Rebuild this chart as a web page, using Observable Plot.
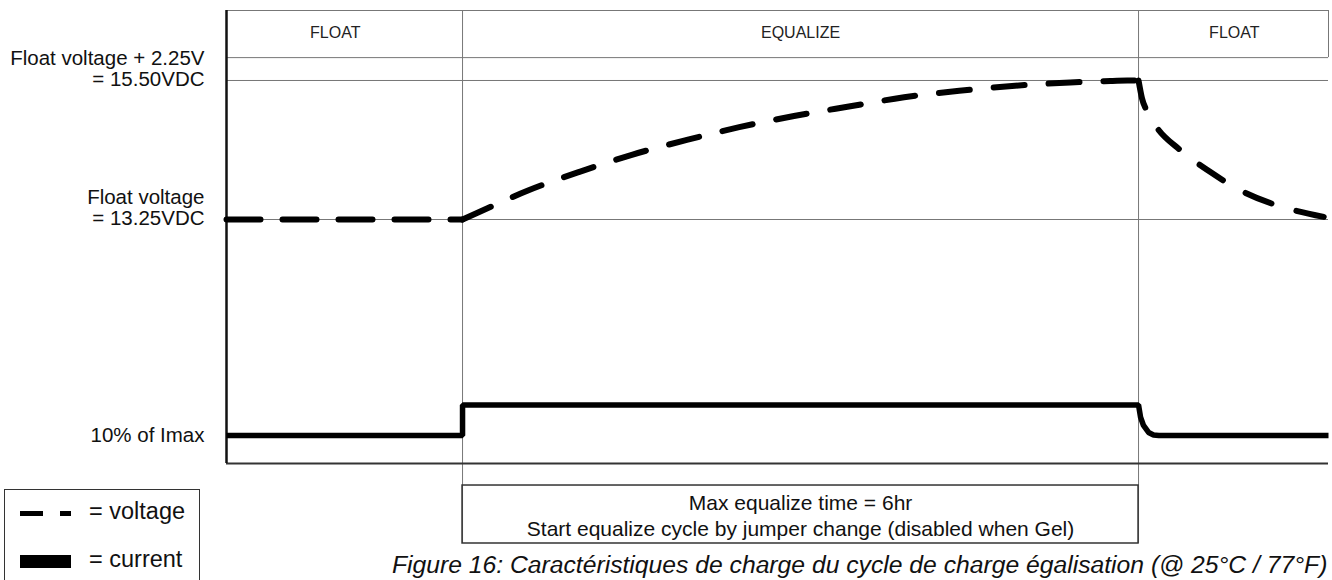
<!DOCTYPE html>
<html>
<head>
<meta charset="utf-8">
<script src="https://cdn.jsdelivr.net/npm/d3@7"></script>
<script src="https://cdn.jsdelivr.net/npm/@observablehq/plot@0.6"></script>
<style>
  html, body { margin: 0; padding: 0; background: #fff; }
  #wrap { position: relative; width: 1332px; height: 580px; overflow: hidden;
          font-family: "Liberation Sans", Arial, Helvetica, sans-serif; color: #111; }
  #wrap svg { position: absolute; left: 0; top: 0; }
  .abs { position: absolute; white-space: nowrap; }
  #legendBox { left: 4px; top: 489px; width: 196px; height: 110px; border: 1.5px solid #333; box-sizing: border-box; }
  .key { background: #000; }
  .ltext { font-size: 23.5px; line-height: 23.5px; }
  #caption { left: 392px; top: 553px; font-size: 24.7px; line-height: 24.7px; font-style: italic; }
</style>
</head>
<body>
<div id="wrap"></div>
<script>
// ---- data ----
const timeDomain = [-2.095, 7.686];           // hours, equalize starts at 0
const phaseBounds = [0, 6];                    // phase changes (hours)
const phaseNames = ["FLOAT", "EQUALIZE", "FLOAT"];
const phaseLabelHours = [-1.13, 3, 6.85];
const phaseLabelLevel = 95.0;
const headerLevels = [100, 89.6];              // header band lines
const levelValues = [84.55, 53.86];            // 15.50 V, 13.25 V lines
const levelLabels = ["Float voltage + 2.25V\n= 15.50VDC", "Float voltage\n= 13.25VDC"];
const currentLabel = ["10% of Imax"];
const currentLabelLevel = 6.2;

// voltage curve (schematic level), split by phase
const voltSection = ["float", "float",
  "equalize", "equalize", "equalize", "equalize", "equalize", "equalize", "equalize", "equalize",
  "equalize", "equalize", "equalize", "equalize", "equalize", "equalize", "equalize", "equalize",
  "after", "after", "after", "after", "after", "after", "after", "after", "after", "after"];
const voltHours  = [-2.095, 0,
  0, 0.138, 0.581, 1.038, 1.503, 1.982, 2.456, 2.942, 3.429, 3.919, 4.409, 4.904, 5.394, 5.751, 5.9, 6.0,
  6.0, 6.031, 6.071, 6.160, 6.367, 6.628, 6.906, 7.187, 7.365, 7.686];
const voltLevels = [53.86, 53.86,
  53.86, 55.41, 60.26, 64.39, 68.15, 71.37, 74.24, 76.71, 78.81, 80.84, 82.27, 83.38, 84.11, 84.44, 84.53, 84.55,
  84.55, 80.57, 77.92, 74.24, 69.25, 64.50, 60.26, 57.33, 56.00, 54.23];
const sectionDash = {float: "34,22", equalize: "31,24", after: "28,26"};

// current curve (schematic level)
const currHours  = [-2.095, 0, 0, 6.0, 6.018, 6.044, 6.089, 6.133, 6.18, 7.686];
const currLevels = [6.2, 6.2, 12.9, 12.9, 10.2, 8.4, 6.85, 6.3, 6.2, 6.2];

// annotation box under the chart
const noteLines = ["Max equalize time = 6hr", "Start equalize cycle by jumper change (disabled when Gel)"];
const noteLevels = [-8.83, -14.57];
const noteBox = [-4.86, -17.66];

const legendLabels = ["= voltage", "= current"];
const captionText = "Figure 16: Caractéristiques de charge du cycle de charge égalisation (@ 25°C / 77°F)";

// ---- chart ----
const gridLevels = [...headerLevels, ...levelValues];
const voltTable = voltHours.map((h, i) => ({h, v: voltLevels[i], s: voltSection[i]}));
const voltMarks = Object.keys(sectionDash).map(s =>
  Plot.line(voltTable.filter(d => d.s === s), {x: "h", y: "v", stroke: "#000", strokeWidth: 6,
    strokeDasharray: sectionDash[s], strokeLinecap: "round", strokeLinejoin: "round", curve: "monotone-x"}));

const chart = Plot.plot({
  width: 1332,
  height: 580,
  marginLeft: 226,
  marginRight: 4,
  marginTop: 10,
  marginBottom: 117,
  x: {domain: timeDomain, axis: null},
  y: {domain: [0, 100], axis: null},
  style: {fontFamily: '"Liberation Sans", Arial, Helvetica, sans-serif', color: "#111", background: "transparent", overflow: "visible"},
  marks: [
    Plot.ruleY(gridLevels, {y: d => d, x1: timeDomain[0], x2: timeDomain[1], stroke: "#777", strokeWidth: 1}),
    Plot.ruleX(phaseBounds, {x: d => d, y1: noteBox[1], y2: headerLevels[0], stroke: "#777", strokeWidth: 1}),
    Plot.ruleX([timeDomain[1]], {x: d => d, y1: headerLevels[1], y2: headerLevels[0], stroke: "#777", strokeWidth: 1}),
    Plot.rect([{x1: phaseBounds[0], x2: phaseBounds[1], y1: noteBox[0], y2: noteBox[1]}],
      {x1: "x1", x2: "x2", y1: "y1", y2: "y2", fill: "none", stroke: "#333", strokeWidth: 1.5}),
    Plot.ruleY([0], {y: d => d, x1: timeDomain[0], x2: timeDomain[1], stroke: "#333", strokeWidth: 2}),
    Plot.ruleX([timeDomain[0]], {x: d => d, y1: 0, y2: headerLevels[0], stroke: "#111", strokeWidth: 2.5}),
    Plot.text(phaseNames, {x: (d, i) => phaseLabelHours[i], y: phaseLabelLevel, text: d => d, fontSize: 16, fill: "#222"}),
    Plot.text(levelLabels, {y: (d, i) => levelValues[i], text: d => d, frameAnchor: "left", textAnchor: "end",
      dx: -22, dy: -12, fontSize: 20.5, lineHeight: 1.03}),
    Plot.text(currentLabel, {y: currentLabelLevel, text: d => d, frameAnchor: "left", textAnchor: "end", dx: -22, fontSize: 20.5}),
    Plot.text(noteLines, {x: (phaseBounds[0] + phaseBounds[1]) / 2, y: (d, i) => noteLevels[i], text: d => d, fontSize: 21}),
    Plot.line(currHours, {x: d => d, y: (d, i) => currLevels[i], stroke: "#000", strokeWidth: 5.5,
      strokeLinejoin: "miter", strokeLinecap: "butt", curve: "linear"}),
    ...voltMarks
  ]
});
const wrap = document.getElementById("wrap");
wrap.appendChild(chart);

// ---- legend & caption (HTML) ----
function addDiv(id, cls, css, text) {
  const d = document.createElement("div");
  if (id) d.id = id;
  d.className = "abs " + (cls || "");
  Object.assign(d.style, css || {});
  if (text) d.textContent = text;
  wrap.appendChild(d);
  return d;
}
addDiv("legendBox", "", {});
addDiv(null, "key", {left: "20px", top: "511px", width: "23px", height: "5px"});
addDiv(null, "key", {left: "60px", top: "511px", width: "11px", height: "5px"});
addDiv(null, "key", {left: "20px", top: "555px", width: "51px", height: "13px"});
addDiv(null, "ltext", {left: "89px", top: "500px"}, legendLabels[0]);
addDiv(null, "ltext", {left: "89px", top: "548px"}, legendLabels[1]);
addDiv("caption", "", {}, captionText);
</script>
</body>
</html>
